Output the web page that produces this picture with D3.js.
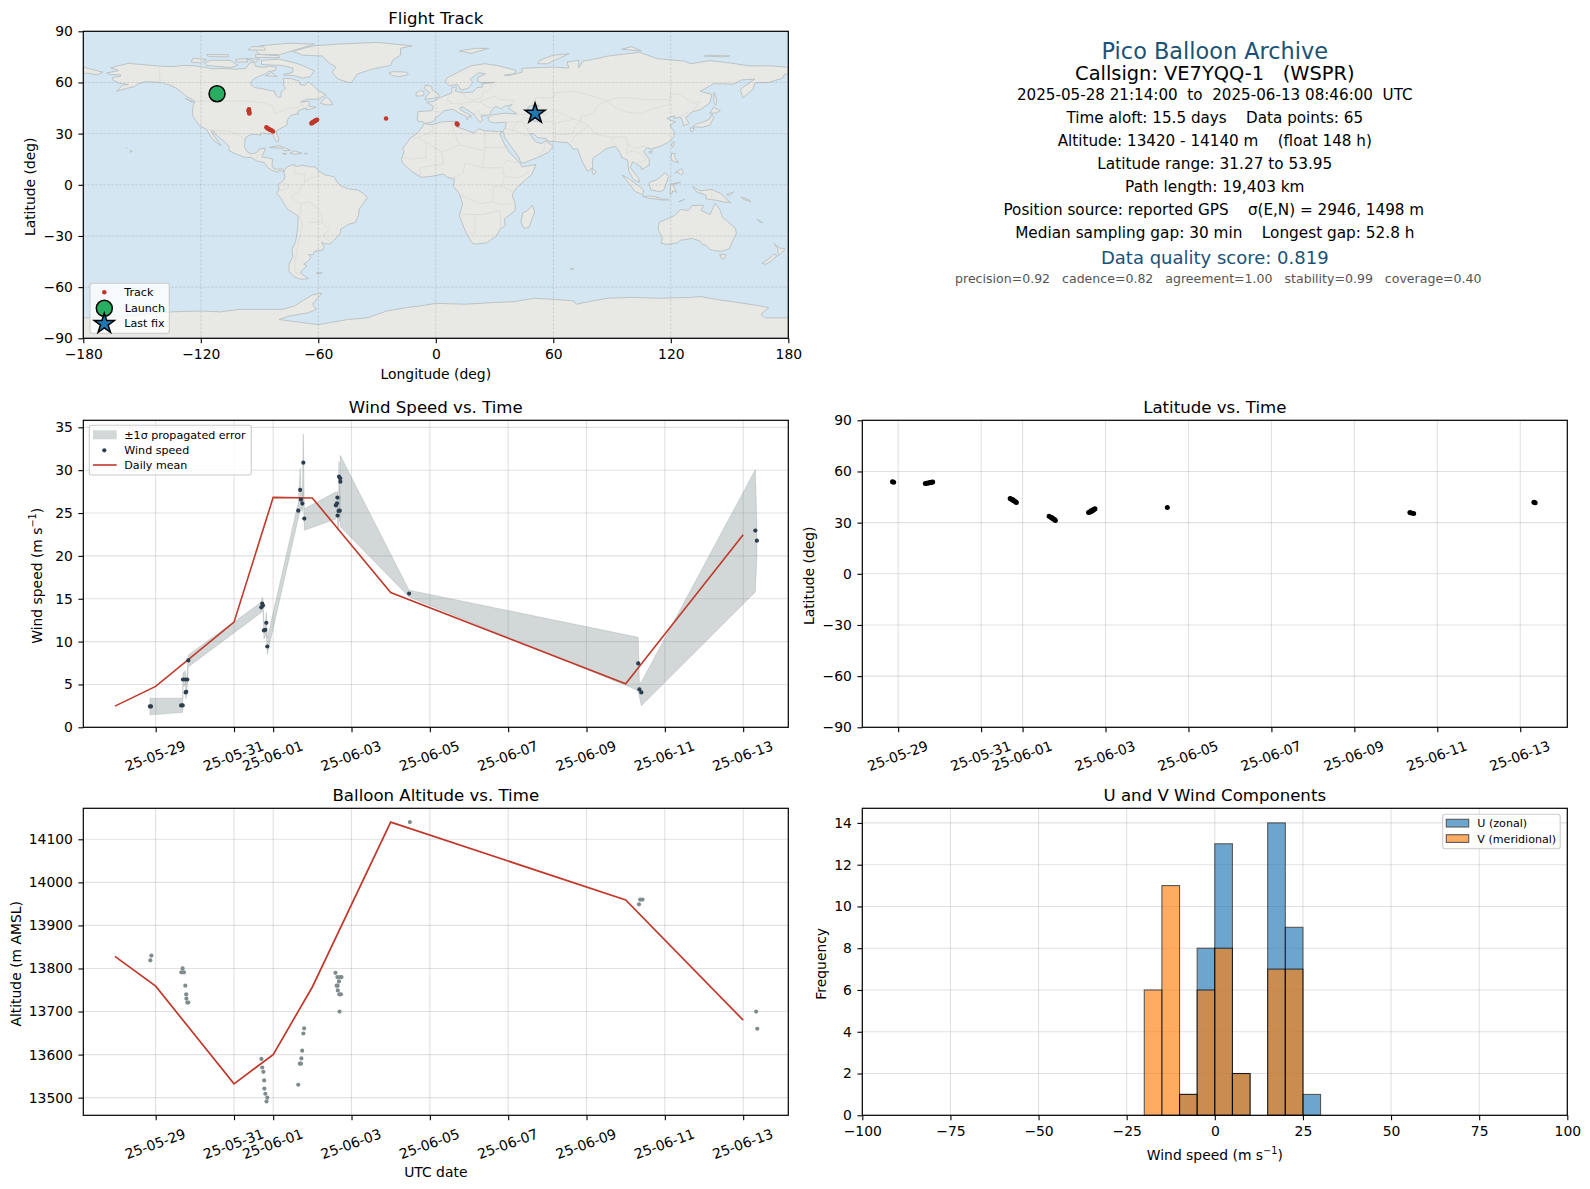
<!DOCTYPE html>
<html>
<head>
<meta charset="utf-8">
<title>Pico Balloon Archive</title>
<script src="https://cdn.jsdelivr.net/npm/d3@7"></script>
<style>
  body { margin: 0; background: #fff; }
  text { font-family: "DejaVu Sans", sans-serif; fill: #000; }
</style>
</head>
<body>
<script>
// ALL TIMES ARE DAYS AFTER 2025-05-29 00:00 UTC
const dayZero = Date.UTC(2025, 4, 29);

// TICKS
const dateTicks = ["2025-05-29","2025-05-31","2025-06-01","2025-06-03","2025-06-05","2025-06-07","2025-06-09","2025-06-11","2025-06-13"];
const lonTicks = [-180,-120,-60,0,60,120,180];
const latTicks = [-90,-60,-30,0,30,60,90];
const windTicks = [0,5,10,15,20,25,30,35];
const altTicks = [13500,13600,13700,13800,13900,14000,14100];
const histXTicks = [-100,-75,-50,-25,0,25,50,75,100];
const histYTicks = [0,2,4,6,8,10,12,14];

// POSITION FIXES
const fixDay = [-0.137,-0.11,0.655,0.688,0.722,0.757,0.78,0.785,0.808,0.833,2.7,2.72,2.75,2.77,2.775,2.8,2.83,2.85,3.64,3.68,3.71,3.72,3.74,3.77,3.79,4.59,4.62,4.64,4.645,4.65,4.68,4.69,4.695,4.71,4.73,4.745,6.49,12.34,12.37,12.43,15.33,15.36];
const fixAlt = [13819,13830,13791,13800,13791,13760,13740,13730,13721,13721,13590,13570,13560,13540,13521,13509,13491,13500,13530,13579,13579,13591,13609,13649,13661,13790,13760,13780,13760,13749,13770,13740,13700,13780,13740,13780,14140,13949,13960,13960,13700,13660];
const fixLat = [53.95,53.7,52.9,53.05,53.2,53.35,53.5,53.55,53.7,53.85,44.2,43.9,43.5,43.2,43,42.7,42.2,41.8,33.7,33.2,32.8,32.5,32.1,31.8,31.27,36,36.2,36.4,36.6,36.8,37,37.2,37.4,37.6,37.9,38.1,38.9,35.9,35.6,35.3,41.9,41.7];
const fixLon = [-111.9,-111.6,-111.3,-110.8,-110.5,-110.2,-110,-109.9,-109.7,-109.5,-95.4,-95.4,-95.5,-95.5,-95.4,-95.3,-95.3,-95.2,-86.5,-86,-85.5,-85,-84.4,-83.8,-83.1,-63.5,-63.3,-63,-62.8,-62.6,-62.3,-62,-61.8,-61.4,-61,-60.6,-25.4,10.7,10.9,11.1,50.6,50.9];
const launchFix = [-111.7, 53.4];
const lastFix = [50.7, 41.8];

// WIND SPEED AND ITS PROPAGATED ERROR
const windDay = [-0.146,-0.12,0.65,0.69,0.697,0.757,0.766,0.78,0.808,0.833,2.696,2.72,2.74,2.765,2.8,2.825,2.85,3.64,3.69,3.71,3.745,3.77,3.795,4.6,4.63,4.64,4.645,4.67,4.68,4.7,4.71,4.715,6.47,12.32,12.35,12.4,15.31,15.35];
const windSpeed = [2.44,2.44,2.55,2.55,5.58,5.58,4.07,4.15,5.58,7.8,14,14.44,14.2,11.3,11.37,12.19,9.43,25.28,27.7,26.56,26.1,30.87,24.35,25.9,26.13,26.8,24.7,25.24,29.24,25.28,29.05,28.66,15.6,7.45,4.42,4.07,22.95,21.78];
const windHigh = [3.4,3.4,3.4,3.4,6.3,6.6,5,5.2,6.6,8.45,14.6,15.2,14.9,12.2,12.2,13.4,10.4,26.2,30.2,27.6,27,34.2,25.5,27.45,27.2,27.6,25.4,26.2,31,26.5,31.7,31.7,16,10.5,5.1,5.3,30.05,23.5];
const windLow = [1.43,1.45,1.72,1.75,4.8,4.9,3.35,3.4,4.8,7.05,13.4,13.7,13.5,10.3,10.6,11.2,8.5,24.4,25.2,25.6,25.2,27.5,23,24.3,25,26,23,23.2,26.8,24,27,23.4,15.2,4.3,3.6,2.5,15.8,20];

// DAILY MEANS
const meanDay = [-1.04,0,2,3,4,6,12,15];
const meanSpeed = [2.47,4.77,12.27,26.83,26.76,15.72,5.08,22.48];
const meanAlt = [13828,13759,13532,13600,13757,14140,13959,13680];

// HISTOGRAM, BIN WIDTH 5 M/S
const binStart = [-20,-15,-10,-5,0,5,10,15,20,25];
const uCounts = [0,0,1,8,13,2,0,14,9,1];
const vCounts = [6,11,1,6,8,2,0,7,7,0];

// SUMMARY TEXT
const summaryText = [
  "Pico Balloon Archive",
  "Callsign: VE7YQQ-1   (WSPR)",
  "2025-05-28 21:14:00  to  2025-06-13 08:46:00  UTC",
  "Time aloft: 15.5 days    Data points: 65",
  "Altitude: 13420 - 14140 m    (float 148 h)",
  "Latitude range: 31.27 to 53.95",
  "Path length: 19,403 km",
  "Position source: reported GPS    σ(E,N) = 2946, 1498 m",
  "Median sampling gap: 30 min    Longest gap: 52.8 h",
  "Data quality score: 0.819",
  "precision=0.92   cadence=0.82   agreement=1.00   stability=0.99   coverage=0.40"
];

// COASTLINES, [LON, LAT]
const landRings = [
  [[-168,65.6],[-164,66.5],[-162,67],[-166,68.5],[-163,69.5],[-157,71.2],[-150,70.5],[-141,69.6],[-135,69.3],[-128,70],[-124,69.8],[-117,68.8],[-115,68],[-108,68.2],[-102,67.8],[-97,68.2],[-95,71.5],[-93,71.8],[-92,69.5],[-88,68.8],[-85,69.5],[-81.5,69],[-82,67],[-86,66.2],[-87,65],[-90,63.8],[-93,62],[-94.5,60],[-94.5,58.8],[-92.5,57],[-88,56.3],[-85,55.3],[-82.3,55],[-82,53],[-80.5,51.3],[-79,51.6],[-79,54.5],[-76.8,56.5],[-78,58.7],[-77.5,60.2],[-78,62.4],[-74,62.2],[-70,61],[-69.5,59],[-67,58.3],[-65,60.3],[-62,57.5],[-60,55.2],[-56,52.8],[-60,50.2],[-66,50.2],[-69,48.5],[-65,49],[-64.5,47.8],[-65,46.2],[-61,45.5],[-63.5,44.6],[-66,43.7],[-66,45],[-67.5,44.6],[-70,43.7],[-70.7,42.2],[-70,41.7],[-74,40.7],[-75.5,38.5],[-76,37],[-75.7,35.5],[-77.5,34],[-81,32],[-81.4,30.5],[-80.3,27],[-80.3,25.3],[-81.3,25.3],[-82.7,27.8],[-82.8,29],[-84.2,30],[-85.6,29.8],[-88,30.4],[-89.5,30.2],[-89.3,29.1],[-91.5,29.5],[-94,29.6],[-97.2,27.8],[-97.5,25],[-97.8,22.3],[-96,19],[-94.5,18.2],[-92,18.6],[-90.6,19.8],[-90.3,21],[-87,21.5],[-87.6,19.5],[-88.2,18],[-88.7,16],[-86,15.9],[-83.3,15],[-83.6,12.5],[-83.6,11],[-82.5,9.2],[-80,9.2],[-79,9.5],[-77.4,8.6],[-78,7.5],[-79.7,8.6],[-80.5,7.4],[-83,8.2],[-85.8,10],[-87.5,13],[-91.5,14],[-94.5,16.2],[-97,15.8],[-102,18],[-105.6,20],[-105.5,22.5],[-108,25.2],[-110,27.2],[-112.8,30],[-113,31.3],[-114.8,31.7],[-113,28.5],[-111,25],[-109.5,23],[-112,24.6],[-114.5,27.5],[-115.8,30],[-117.1,32.5],[-120.5,34.5],[-122.5,37.5],[-124.2,40.5],[-124.2,43],[-124,46.5],[-122.8,48.9],[-127.5,52],[-130,54.5],[-133,57],[-136,58.4],[-139.5,59.8],[-145,60.3],[-148,60.5],[-152,59.2],[-154,57.5],[-158,56.5],[-163,54.8],[-160,58.5],[-157,58.8],[-162,59.7],[-165,61.5],[-165,63],[-161,63.6],[-161,64.5],[-166,64.6]],
  [[-80,73.7],[-72,71.5],[-68,70],[-62,66.8],[-64,63.5],[-68,62.5],[-72,64],[-78,64.5],[-73,66],[-73,68.5],[-79,70],[-89,70.5],[-89,73]],
  [[-117,70],[-105,68.8],[-101,70],[-105,73],[-115,73],[-118,71.5]],
  [[-125,72],[-120,71.5],[-117,73.5],[-124,74.2]],
  [[-90,76.5],[-80,76.2],[-72,79],[-62,82.5],[-75,83],[-90,81.5],[-92,79]],
  [[-92,74.7],[-80,74.6],[-80,75.7],[-92,76.5]],
  [[-116,75.2],[-106,75],[-106,76.3],[-117,76.3]],
  [[-96,79],[-87,79],[-88,81],[-94,81]],
  [[-87,64],[-81,63.5],[-84,65.8]],
  [[-102,72],[-96,72],[-97,74],[-102,73.5]],
  [[-97,74],[-90,73.7],[-92,72]],
  [[-59,47.8],[-55.5,46.8],[-52.8,47],[-53.5,49],[-55.7,51.5],[-57.5,50]],
  [[-128,50.7],[-123.5,48.4],[-125,48.7]],
  [[-85,21.9],[-80,23],[-74.2,20.2],[-77.5,19.9],[-78.5,21.5]],
  [[-74.4,18.5],[-72.5,19.9],[-68.4,18.6],[-71.5,17.8]],
  [[-78.3,18.4],[-76.3,18.2],[-77,17.8]],
  [[-67.2,18.5],[-65.6,18.4],[-66,17.9]],
  [[-156,19],[-155,19.7],[-155.9,20.2]],
  [[-158.2,21.5],[-157.7,21.4],[-158,21.2]],
  [[-73,78.2],[-68,76],[-58,75.5],[-54,71],[-51,69],[-53,66],[-50,62],[-45,60.2],[-43,60],[-40,65],[-32,68],[-23,70],[-22,73],[-18,76],[-18,80],[-12,81.5],[-30,83.5],[-50,82.5],[-62,81.5],[-66,80.5]],
  [[-24,65.5],[-22,64],[-18.5,63.4],[-14,64.6],[-14.8,66],[-18,66.3],[-22,66.3]],
  [[-77.4,8.6],[-75.5,10.8],[-72,12],[-71.5,10.7],[-68,11.5],[-64,10.5],[-61.5,10.5],[-60,8.3],[-57,6],[-52,4.7],[-50,1],[-48,-1],[-44,-2.5],[-40,-3],[-37,-5],[-35,-7.5],[-37,-11],[-39,-14],[-39.5,-18],[-41,-22],[-44.5,-23.2],[-48.5,-26],[-48.8,-28.5],[-52,-32.5],[-54,-34.7],[-57,-34.5],[-58.3,-33.5],[-57,-36.5],[-57.7,-38.2],[-62,-39],[-62.5,-41],[-65,-41],[-63.7,-42.5],[-65.5,-45],[-67.5,-46.5],[-65.8,-47.5],[-69,-51],[-68.3,-52.5],[-65,-55],[-69,-55.5],[-72,-54],[-75,-51],[-75,-46.5],[-73,-42],[-73.5,-38],[-71.5,-33],[-70.5,-25],[-70.3,-18.3],[-76,-14],[-79,-8],[-81.3,-5],[-80,-2.5],[-80.5,0],[-78.5,2],[-77,4],[-77.5,7]],
  [[-61,-51.7],[-58,-51.5],[-59,-52.3]],
  [[-6,35.8],[-2,35.2],[3,36.9],[10,37.3],[11,36.8],[10.5,34],[15,32.3],[19.5,30.3],[22,32.8],[25,31.7],[32,31.2],[34.2,31.3],[32.6,29.9],[35,24],[37,20],[38.5,18],[43,12.6],[44,10.5],[51.2,11.9],[49,6],[44,1],[41,-2],[39,-6],[40.5,-11],[40.6,-15],[35,-20],[35.5,-24],[32.8,-26],[31,-30],[26,-34],[20,-34.8],[18.4,-34],[15,-27],[12,-18],[13.7,-11],[12,-5],[9,-1],[9.5,3.5],[6,4.3],[4,6.3],[-2,5],[-7.5,4.4],[-13,8.5],[-16.8,12.5],[-17.5,14.7],[-16.2,19.5],[-17,21],[-13,27.5],[-9.7,30],[-6.8,34]],
  [[49.3,-12],[50.5,-16],[47.5,-25],[45,-25.5],[43.5,-22],[44.3,-16.5],[47,-15]],
  [[-9,37],[-9.5,38.7],[-9,43],[-2,43.4],[-1.2,46],[-4.7,48.4],[-1.5,48.7],[1.5,50.8],[4,52],[8,53.7],[8.3,57],[10.6,57.5],[10,54.8],[14,54],[19,54.4],[21,57],[24,57.3],[23.5,59.2],[30,60],[23,60],[21.3,61],[21.5,63],[25.3,65],[22,65.7],[17.5,62],[18.8,60],[16.5,56.5],[13,55.5],[11,59],[7,58],[5,60],[5.5,62.5],[13,67],[18,69.8],[25,71],[31,70],[41,67.2],[40,65],[35,64.3],[37,64],[44,66],[44,68.3],[54,68.8],[60,69],[68,68.5],[67,72],[73,73],[73,68.5],[75,72.5],[80,73.5],[88,75.5],[104,77.7],[113,74],[127,72.5],[130,71],[140,72.8],[150,71.5],[160,69.7],[170,69.8],[180,69],[180,65],[178,64.5],[177,62.5],[170,60],[163,59.8],[162,56],[156.7,51],[155.5,56],[161,60.5],[163,62],[156,61.5],[152,59],[142,59.3],[135,54.8],[141,53],[140,48],[135,44],[131,42.8],[129.5,41],[127.5,39.5],[129.4,36],[126.5,34.5],[126,37.5],[125,39.7],[121.5,39],[122,40.5],[118,39],[120.5,37.5],[122.5,37],[119.5,35],[121.8,31],[121.7,28.5],[119,25],[114,22.3],[110,21],[108,21.7],[106,19.5],[109,15],[109,11.5],[105,8.8],[105,10.5],[100.5,13.5],[99.3,10],[103.5,4],[104,1.4],[101,3],[98.5,8],[98,14.5],[95,16],[94,19],[91.8,22.5],[89,21.8],[87,21.2],[85,19.5],[80.2,15.5],[80,10],[77.5,8],[74.8,13.5],[73,19],[72.5,21],[70,21],[69,23],[67,24.8],[62,25.2],[57,25.6],[56.5,27],[52,27.7],[50,30],[48,30],[50,26.5],[51.5,25],[54,24.2],[56.3,25.8],[59.8,22.5],[57.5,19],[52,16],[45,12.8],[43.3,13],[42.5,16],[39,21.5],[35,28],[34.9,29.5],[34.2,31.3],[35.5,33.5],[36,36.7],[30,36.3],[27.5,37],[26.5,39.5],[29,41],[35,42],[41.5,41.5],[37,45],[39,47],[35,46],[33.5,44.5],[30.5,46],[28,43],[28,41.5],[26,40.7],[23,40.3],[24,38],[22.5,36.5],[19.4,41.5],[14,45.5],[12.3,45.2],[12.5,44],[16,41.8],[18.4,40],[16.8,40],[16,38],[15.6,40],[12,42],[9,44.3],[4,43.4],[3,41.8],[0,39.5],[-0.5,38],[-2,36.8],[-5.5,36],[-7,37.2]],
  [[-5.5,50],[1.5,51.3],[1.7,52.8],[-2,56],[-2,57.6],[-5,58.6],[-6,56.5],[-3,54],[-5,52]],
  [[-10,52],[-6.2,52.2],[-6,54.5],[-8,55.3],[-10,54]],
  [[12,78.5],[20,80],[27,80],[18,77]],
  [[52,71],[57,71],[68,76.8],[60,76],[53,73]],
  [[95,79.5],[105,78.5],[100,81]],
  [[137,75.5],[146,75],[150,75.5],[140,76]],
  [[-180,69],[-175,67.5],[-170,66],[-173,64.5],[-178,65.5],[-180,65]],
  [[142,54.3],[143.5,50],[143,46.5],[142,48],[142,52]],
  [[131,34],[136,33.7],[140,35],[142,39.5],[141,41.4],[139.8,38.5],[136.5,36.8],[132.5,35.5]],
  [[140,42],[143,42],[145.3,43.5],[141.8,45.4]],
  [[130,33.5],[132,33],[131,31],[130,31.5]],
  [[120.2,23],[121,25],[122,25],[120.9,22]],
  [[108.7,19.3],[110.7,20],[110,18.4]],
  [[80,9.7],[82,7.5],[80.5,6],[79.8,8]],
  [[95.3,5.6],[98,4],[104,-1],[106,-3],[105.8,-5.9],[102,-4],[98.5,1]],
  [[105.5,-6.8],[110,-6.6],[114.5,-7.8],[114.5,-8.7],[108,-7.8]],
  [[109,1.5],[113,3],[117,7],[119,5],[117.7,1],[116.5,-3],[114,-4],[110,-3],[109,0]],
  [[119.5,-5.5],[120,0.5],[125,1.5],[121,0],[123,-4.5],[121,-3.5],[120.4,-5.5]],
  [[120.5,18.5],[122.2,18.3],[122,16],[124,13],[120.8,14],[120,16]],
  [[122,7],[125.5,9.5],[126.5,7],[125.5,5.7],[123.5,7.5]],
  [[115,-8.4],[119,-8.4],[119,-9],[115,-8.9]],
  [[124,-10],[127,-8.5],[125,-9.5]],
  [[131,-1],[135,-3.5],[141,-2.7],[146,-5.5],[148,-8],[150.7,-10.5],[147,-10],[143,-9],[138,-8.3],[138,-6],[133,-4]],
  [[148.5,-5.7],[152,-4.2],[150,-6.3]],
  [[156,-7],[160,-9],[161,-10],[157,-8.5]],
  [[164,-20.2],[167,-22.3],[165,-21.5]],
  [[114,-22],[117,-20.6],[122,-18],[125,-14.5],[129,-15],[130.8,-12.2],[136.8,-12],[135.5,-15],[140,-17.5],[141.7,-13],[142.6,-10.8],[145.3,-15],[146.3,-19],[149,-21.5],[153,-25.5],[153.5,-28.5],[150.8,-35],[150,-37.5],[146,-39],[143.5,-38.8],[140,-38],[138,-35.5],[136,-35],[135,-33],[131,-31.5],[125,-32.5],[123.5,-34],[118,-35],[115,-34.3],[115.7,-31],[113.5,-26]],
  [[145,-40.8],[148.3,-41],[147,-43.5],[146,-43.5]],
  [[172.7,-34.5],[175.5,-37],[178.3,-37.7],[177,-39.5],[175,-41.5],[174.7,-39.5],[174.7,-37.5]],
  [[172.7,-40.5],[174.3,-41.7],[171,-45],[168.5,-46.6],[166.5,-46],[170.5,-43]],
  [[68.6,-49.2],[70.5,-49.2],[69.5,-49.8]],
  [[-180,-78],[-170,-78],[-158,-77],[-150,-76],[-135,-74.5],[-120,-74],[-110,-74.5],[-100,-73],[-90,-73],[-78,-73],[-72,-71],[-68,-68],[-63,-64.5],[-58,-63.5],[-60,-66],[-63,-70],[-61,-73],[-65,-75],[-75,-77],[-80,-79],[-60,-82],[-45,-79],[-35,-78],[-25,-74],[-15,-72],[-8,-71],[0,-69.5],[15,-70],[30,-69],[40,-68.5],[50,-66.5],[58,-67],[70,-68],[72,-70],[78,-68.5],[88,-66.5],[100,-66],[115,-66.5],[130,-66],[135,-65.5],[145,-67.5],[153,-68.8],[163,-70.5],[170,-72],[166,-76],[168,-78],[180,-78],[180,-90],[-180,-90]]
];
const caspianRing = [[47,45.5],[50,46.8],[53,46.5],[51,44.5],[53,41.5],[54,37],[50,37.3],[49,40],[47.3,43]];
const borderLines = [
  [[-123,49],[-95,49],[-88,48],[-83,46],[-82.5,42],[-79,43],[-75,45],[-71,45],[-68,47.3],[-67.5,45]],
  [[-141,69.6],[-141,60.3],[-135,58.5]],
  [[-117,32.5],[-108,31.5],[-106,31.7],[-101,29.7],[-97.5,26]],
  [[-92,14.5],[-91,17.5],[-89,18],[-88.5,16]],
  [[-72,12],[-72.5,7],[-67,6],[-67,1.5],[-70,-4],[-74,-7],[-71,-10],[-69,-11],[-69,-16],[-70,-18]],
  [[-60,8.3],[-60,5],[-64,4],[-67,1.5]],
  [[-78.5,1.5],[-75,0],[-75.5,-2],[-80,-3.5]],
  [[-69,-11],[-65,-10],[-60,-14],[-58,-18],[-58,-22],[-54.5,-26],[-57.5,-30],[-53.5,-33.7]],
  [[-70,-18],[-68,-23],[-70,-33],[-72,-45],[-72,-51],[-69,-52.5]],
  [[-65,-22],[-62,-22],[-58,-22]],
  [[-13,27.5],[-8.7,27.5],[-5,25],[-5,16],[-12,15],[-16.5,16]],
  [[-2,35],[-1,32],[-8.7,27.5]],
  [[-5,25],[3,19],[12,23.5],[9.5,30],[8,36.9]],
  [[12,23.5],[25,20],[25,31.7]],
  [[25,22],[37,22]],
  [[25,20],[24,10],[15,13],[14,7],[9,4]],
  [[3,19],[4,12],[-3,11],[-8,10],[-8,5]],
  [[24,10],[34,10],[36,14.5],[43,12.6]],
  [[34,10],[35,5],[41,4],[44,5],[48,8]],
  [[35,5],[34,-1],[40,-4.5]],
  [[34,-1],[29.5,-1],[29,-10],[22,-11],[13,-6]],
  [[29,-10],[34,-11.5],[40.5,-10.7]],
  [[12,-17.3],[24,-17.5],[33,-15],[33,-25]],
  [[20,-17.5],[20,-28],[17,-28.5]],
  [[6,51],[6,49],[8,49],[7.5,47.6],[13,47.5],[17,48.7],[22,48.5],[30,52],[32,50],[40,49.5],[38,47]],
  [[-1.8,43.3],[3,42.5]],
  [[14,54],[15,51],[19,49.5],[23.5,51],[24,54],[28,56],[28,59.5]],
  [[22,48.5],[27,45.5],[29.6,45.3]],
  [[13,47.5],[14,45.5]],
  [[19.4,41.5],[22,44],[22.5,41],[26,41.5]],
  [[42,41.5],[46,41],[48.5,41.8]],
  [[36,36.7],[44,37],[44.5,39.5],[46,38.9],[48,39]],
  [[44,37],[46,34],[48,30]],
  [[35.5,33],[39,32],[42,37]],
  [[39,32],[46.5,29],[48,29.5]],
  [[52,16.5],[55,20],[56,24.5]],
  [[61,25],[61,31],[61,36.5],[54,37.5]],
  [[61,36.5],[66,37.3],[71,38.5],[74,37],[71,34],[70,30],[66,29.5],[61,29.8]],
  [[74,37],[78,35],[75,32],[70.5,28],[69,24.5]],
  [[78,35],[81,30],[88,28],[92,28],[97,28],[98,24],[101,21.5],[106,22.5],[108,21.7]],
  [[92,28],[89.5,26],[92,23],[92.5,21]],
  [[98,24],[97.5,18],[100,20],[105,18],[107.5,14.5],[102,12.5]],
  [[49,46],[52,42],[56,41.3],[60,44],[66,41],[71,38.5]],
  [[49,46],[51,51],[60,51],[61,54],[71,55],[77,53],[84,50.5],[87.5,49]],
  [[87.5,49],[92,51],[99,51],[107,50],[114,50],[119,50],[120,53.3],[125,53],[131,48],[135,48.5],[131,43]],
  [[87.5,49],[83,47],[80.5,42],[74,40],[74,37]],
  [[87.5,49],[92,45],[97,42.7],[105,41.8],[112,45],[119,47],[119,50]],
  [[124.5,40],[128,42],[130.5,42.5]],
  [[141,-2.7],[141,-9]]
];

// GEOMETRY
const colLeft = 83.3, colRight = 862.3, axW = 705;
const rowMap = {top: 31.3, h: 307};
const rowMid = {top: 420.3, h: 307};
const rowBot = {top: 808.3, h: 307};
const tickFont = 13.9;
const bandColor = "#7f8c8d", navy = "#2c3e50", red = "#c0392b", blue = "#1a5276";

// SUMMARY LAYOUT, ONE ENTRY FOR EACH LINE OF TEXT
const summaryY = [50.5,73.5,94.5,117.5,140.5,163.5,186.5,209.5,232.5,257,278];
const summaryDx = [0,0,0,0,0,0,0,-1,0,0,3.5];
const summarySize = [22.4,19.4,15.15,15.2,15.2,15.3,15.3,15.2,15.3,18,12.55];
const summaryFill = [blue,"#000","#000","#000","#000","#000","#000","#000","#000",blue,"#555555"];

const svg = d3.select("body").append("svg").attr("width", 1590).attr("height", 1189);

const atDay = d => new Date(dayZero + d * 864e5);
const fmtDate = d3.utcFormat("%y-%m-%d");
const tickDates = dateTicks.map(s => new Date(s + "T00:00:00Z"));

// MAKES THE GROUP FOR ONE PANEL, WITH TITLE
const panel = (x, row, title) => {
  const g = svg.append("g").attr("transform", `translate(${x},${row.top})`);
  g.append("text").attr("x", axW / 2).attr("y", -7.6).attr("text-anchor", "middle")
    .attr("font-size", 16.6).text(title);
  return g;
};

const gridLines = (g, xs, ys, h, style) => {
  const c = g.append("g").attr("fill", "none")
    .attr("stroke", style.color).attr("stroke-opacity", style.opacity)
    .attr("stroke-width", style.width).attr("stroke-dasharray", style.dash);
  c.selectAll(".gx").data(xs).enter().append("line")
    .attr("x1", d => d).attr("x2", d => d).attr("y1", 0).attr("y2", h);
  c.selectAll(".gy").data(ys).enter().append("line")
    .attr("x1", 0).attr("x2", axW).attr("y1", d => d).attr("y2", d => d);
};
const softGrid = {color: "#b0b0b0", opacity: 0.38, width: 1.1, dash: null};
const mapGrid = {color: "#808080", opacity: 0.35, width: 0.7, dash: "2.5,1.5"};

// AXES AND THE BOX ROUND THE PANEL
const frame = (g, h, xAxis, yAxis, rotate) => {
  const ax = g.append("g").attr("transform", `translate(0,${h})`).call(xAxis.tickSize(4.9).tickPadding(6).tickSizeOuter(0));
  const ay = g.append("g").call(yAxis.tickSize(4.9).tickPadding(5.5).tickSizeOuter(0));
  [ax, ay].forEach(a => {
    a.select(".domain").remove();
    a.selectAll("line").attr("stroke", "#000").attr("stroke-width", 1.1);
    a.selectAll("text").attr("font-size", tickFont).attr("font-family", null).attr("fill", "#000");
  });
  ax.attr("font-family", null);
  ay.attr("font-family", null);
  if (rotate) {
    ax.selectAll("text").attr("y", 0).attr("dy", null)
      .attr("text-anchor", "middle").attr("dominant-baseline", "central")
      .attr("transform", "translate(-1,28.5) rotate(-20)");
  }
  g.append("rect").attr("width", axW).attr("height", h)
    .attr("fill", "none").attr("stroke", "#000").attr("stroke-width", 1.2);
};

const yLabel = (g, x, h, txt) => {
  const t = g.append("text").attr("font-size", tickFont).attr("text-anchor", "middle")
    .attr("dominant-baseline", "central")
    .attr("transform", `translate(${x},${h / 2 + 2}) rotate(-90)`);
  return txt(t);
};
const xLabel = (g, y, txt) => {
  const t = g.append("text").attr("x", axW / 2).attr("y", y).attr("font-size", tickFont)
    .attr("text-anchor", "middle").attr("dominant-baseline", "central");
  return txt(t);
};
const windUnits = (t, before) => {
  t.append("tspan").text(before + " (m s");
  t.append("tspan").attr("font-size", 9.7).attr("dy", -5).text("\u22121");
  t.append("tspan").attr("dy", 5).text(")");
};

const legendBox = (g, x, y, w, h) => g.append("rect").attr("x", x).attr("y", y).attr("width", w).attr("height", h)
  .attr("rx", 2.5).attr("fill", "#fff").attr("fill-opacity", 0.8).attr("stroke", "#cccccc").attr("stroke-width", 1.1);
const legendText = (g, x, y, s) => g.append("text").attr("x", x).attr("y", y).attr("font-size", 11.1)
  .attr("dominant-baseline", "central").text(s);

// ------ FLIGHT TRACK
const gMap = panel(colLeft, rowMap, "Flight Track");
const X_lon = d3.scaleLinear().domain([-180, 180]).range([0, axW]);
const Y_lat = d3.scaleLinear().domain([-90, 90]).range([rowMap.h, 0]);
const ringPath = d3.line().x(d => X_lon(d[0])).y(d => Y_lat(d[1]));
gMap.append("rect").attr("width", axW).attr("height", rowMap.h).attr("fill", "#d4e6f1");
gMap.append("g").selectAll("path").data(landRings).enter().append("path")
  .attr("d", d => ringPath(d) + "Z")
  .attr("fill", "#e8e8e4").attr("stroke", "#b8bfc2").attr("stroke-width", 0.9).attr("stroke-linejoin", "round");
gMap.append("g").selectAll("path").data(borderLines).enter().append("path")
  .attr("d", ringPath).attr("fill", "none").attr("stroke", "#d9d9d6").attr("stroke-width", 0.7);
gMap.append("path").attr("d", ringPath(caspianRing) + "Z")
  .attr("fill", "#d4e6f1").attr("stroke", "#b8bfc2").attr("stroke-width", 0.9);
gridLines(gMap, lonTicks.map(X_lon), latTicks.map(Y_lat), rowMap.h, mapGrid);
gMap.append("g").selectAll("circle").data(fixLon).enter().append("circle")
  .attr("cx", d => X_lon(d)).attr("cy", (d, i) => Y_lat(fixLat[i])).attr("r", 2.3).attr("fill", red);
gMap.append("circle").attr("cx", X_lon(launchFix[0])).attr("cy", Y_lat(launchFix[1])).attr("r", 8)
  .attr("fill", "#27ae60").attr("stroke", "#000").attr("stroke-width", 1.5);
const starPath = d3.symbol(d3.symbolStar, 125)();
gMap.append("path").attr("d", starPath)
  .attr("transform", `translate(${X_lon(lastFix[0])},${Y_lat(lastFix[1])})`)
  .attr("fill", "#1f77b4").attr("stroke", "#000").attr("stroke-width", 1.5);
frame(gMap, rowMap.h, d3.axisBottom(X_lon).tickValues(lonTicks), d3.axisLeft(Y_lat).tickValues(latTicks), false);
xLabel(gMap, 342.5, t => t.text("Longitude (deg)"));
yLabel(gMap, -53, rowMap.h, t => t.text("Latitude (deg)"));
legendBox(gMap, 6.7, 252, 79.3, 50);
gMap.append("circle").attr("cx", 21).attr("cy", 261).attr("r", 2.3).attr("fill", red);
gMap.append("circle").attr("cx", 21).attr("cy", 277).attr("r", 8).attr("fill", "#27ae60").attr("stroke", "#000").attr("stroke-width", 1.5);
gMap.append("path").attr("d", starPath).attr("transform", "translate(21,292.5)")
  .attr("fill", "#1f77b4").attr("stroke", "#000").attr("stroke-width", 1.5);
legendText(gMap, 41, 261, "Track");
legendText(gMap, 41.5, 277, "Launch");
legendText(gMap, 41, 292, "Last fix");

// ------ SUMMARY
svg.append("g").selectAll("text").data(summaryText).enter().append("text")
  .attr("x", (d, i) => colRight + axW / 2 + summaryDx[i]).attr("y", (d, i) => summaryY[i])
  .attr("text-anchor", "middle").attr("dominant-baseline", "central")
  .attr("font-size", (d, i) => summarySize[i]).style("fill", (d, i) => summaryFill[i]).style("white-space", "pre")
  .text(d => d);

// ------ WIND SPEED
const gWind = panel(colLeft, rowMid, "Wind Speed vs. Time");
const X_left = d3.scaleUtc().domain([atDay(-1.848), atDay(16.152)]).range([0, axW]);
const Y_wind = d3.scaleLinear().domain([0, 35.82]).range([rowMid.h, 0]);
gridLines(gWind, tickDates.map(X_left), windTicks.map(Y_wind), rowMid.h, softGrid);
const windBand = d3.area().x((d, i) => X_left(atDay(d))).y0((d, i) => Y_wind(windLow[i])).y1((d, i) => Y_wind(windHigh[i]));
gWind.append("path").attr("d", windBand(windDay)).attr("fill", bandColor).attr("fill-opacity", 0.35)
  .attr("stroke", bandColor).attr("stroke-opacity", 0.25).attr("stroke-width", 1);
const windMean = d3.line().x(d => X_left(atDay(d))).y((d, i) => Y_wind(meanSpeed[i]));
gWind.append("path").attr("d", windMean(meanDay)).attr("fill", "none").attr("stroke", red).attr("stroke-width", 1.6);
gWind.append("g").selectAll("circle").data(windDay).enter().append("circle")
  .attr("cx", d => X_left(atDay(d))).attr("cy", (d, i) => Y_wind(windSpeed[i])).attr("r", 2.1).attr("fill", navy);
frame(gWind, rowMid.h, d3.axisBottom(X_left).tickValues(tickDates).tickFormat(fmtDate), d3.axisLeft(Y_wind).tickValues(windTicks), true);
yLabel(gWind, -46, rowMid.h, t => windUnits(t, "Wind speed"));
legendBox(gWind, 6, 5, 162, 49.7);
gWind.append("rect").attr("x", 9.7).attr("y", 10).attr("width", 23.7).attr("height", 9).attr("fill", bandColor).attr("fill-opacity", 0.35);
gWind.append("circle").attr("cx", 21).attr("cy", 30).attr("r", 2.1).attr("fill", navy);
gWind.append("line").attr("x1", 9.7).attr("x2", 33.4).attr("y1", 44.7).attr("y2", 44.7).attr("stroke", red).attr("stroke-width", 1.6);
legendText(gWind, 41, 15, "\u00b11\u03c3 propagated error");
legendText(gWind, 41, 30, "Wind speed");
legendText(gWind, 41, 45.5, "Daily mean");

// ------ LATITUDE
const gLat = panel(colRight, rowMid, "Latitude vs. Time");
const X_right = d3.scaleUtc().domain([atDay(-0.865), atDay(16.135)]).range([0, axW]);
const Y_latT = d3.scaleLinear().domain([-90, 90]).range([rowMid.h, 0]);
gridLines(gLat, tickDates.map(X_right), latTicks.map(Y_latT), rowMid.h, softGrid);
gLat.append("g").selectAll("circle").data(fixDay).enter().append("circle")
  .attr("cx", d => X_right(atDay(d))).attr("cy", (d, i) => Y_latT(fixLat[i])).attr("r", 2.5).attr("fill", "#000");
frame(gLat, rowMid.h, d3.axisBottom(X_right).tickValues(tickDates).tickFormat(fmtDate), d3.axisLeft(Y_latT).tickValues(latTicks), true);
yLabel(gLat, -53, rowMid.h, t => t.text("Latitude (deg)"));

// ------ ALTITUDE
const gAlt = panel(colLeft, rowBot, "Balloon Altitude vs. Time");
const Y_alt = d3.scaleLinear().domain([13459, 14172]).range([rowBot.h, 0]);
gridLines(gAlt, tickDates.map(X_left), altTicks.map(Y_alt), rowBot.h, softGrid);
const altMean = d3.line().x(d => X_left(atDay(d))).y((d, i) => Y_alt(meanAlt[i]));
gAlt.append("path").attr("d", altMean(meanDay)).attr("fill", "none").attr("stroke", red).attr("stroke-width", 1.7);
gAlt.append("g").selectAll("circle").data(fixDay).enter().append("circle")
  .attr("cx", d => X_left(atDay(d))).attr("cy", (d, i) => Y_alt(fixAlt[i])).attr("r", 2.1).attr("fill", bandColor);
frame(gAlt, rowBot.h, d3.axisBottom(X_left).tickValues(tickDates).tickFormat(fmtDate), d3.axisLeft(Y_alt).tickValues(altTicks).tickFormat(d3.format("d")), true);
xLabel(gAlt, 363.5, t => t.text("UTC date"));
yLabel(gAlt, -67, rowBot.h, t => t.text("Altitude (m AMSL)"));

// ------ HISTOGRAM
const gHist = panel(colRight, rowBot, "U and V Wind Components");
const X_hist = d3.scaleLinear().domain([-100, 100]).range([0, axW]);
const Y_hist = d3.scaleLinear().domain([0, 14.7]).range([rowBot.h, 0]);
gridLines(gHist, histXTicks.map(X_hist), histYTicks.map(Y_hist), rowBot.h, softGrid);
const histBars = (counts, color) => gHist.append("g").selectAll("rect").data(binStart.filter((d, i) => counts[i] > 0)).enter().append("rect")
  .attr("x", d => X_hist(d)).attr("width", d => X_hist(d + 5) - X_hist(d))
  .attr("y", d => Y_hist(counts[binStart.indexOf(d)]))
  .attr("height", d => rowBot.h - Y_hist(counts[binStart.indexOf(d)]))
  .attr("fill", color).attr("stroke", "#000").attr("stroke-width", 1.1).attr("opacity", 0.65);
histBars(uCounts, "#1f77b4");
histBars(vCounts, "#ff7f0e");
frame(gHist, rowBot.h, d3.axisBottom(X_hist).tickValues(histXTicks), d3.axisLeft(Y_hist).tickValues(histYTicks), false);
xLabel(gHist, 346.5, t => windUnits(t, "Wind speed"));
yLabel(gHist, -41, rowBot.h, t => t.text("Frequency"));
legendBox(gHist, 580.4, 6, 117.5, 34.4);
[["#1f77b4", 11, "U (zonal)"], ["#ff7f0e", 26.4, "V (meridional)"]].forEach(e => {
  gHist.append("rect").attr("x", 584).attr("y", e[1]).attr("width", 22.4).attr("height", 7.7)
    .attr("fill", e[0]).attr("stroke", "#000").attr("stroke-width", 1.1).attr("opacity", 0.65);
  legendText(gHist, 615, e[1] + 4.5, e[2]);
});
</script>
</body>
</html>
